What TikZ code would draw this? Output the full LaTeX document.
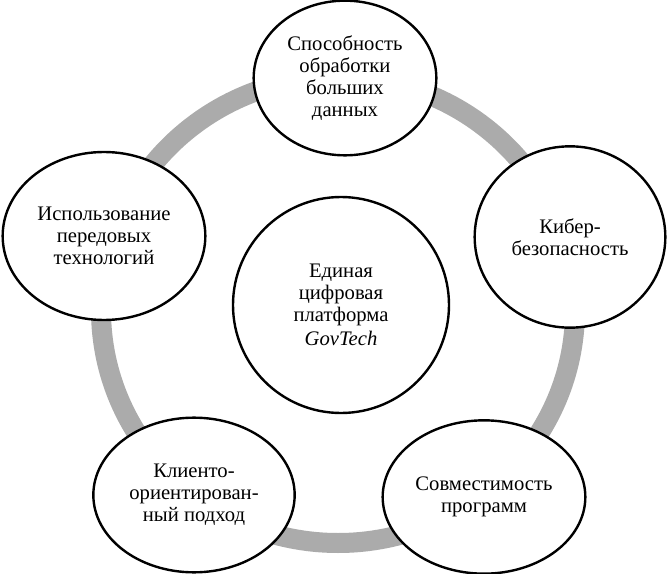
\documentclass[tikz,border=0pt]{standalone}
\usepackage{fontspec}
\setmainfont{Liberation Serif}
\usepackage{xcolor}
\usepackage{tikz}
\usetikzlibrary{shapes.geometric}

\begin{document}
\begin{tikzpicture}[x=0.75pt, y=-0.75pt, every node/.style={align=center},
  ring/.style={line width=15pt, draw=black!33},
  item/.style={draw, ellipse, line width=1.8pt, fill=white, inner sep=0pt, font=\fontsize{15.5}{16.5}\selectfont},
  hub/.style={draw, circle, line width=1.8pt, fill=white, inner sep=0pt, minimum size=162pt, font=\fontsize{15.5}{16.5}\selectfont}]
\useasboundingbox (0,0) rectangle (668,574);
\coordinate (O) at (338,310);
\draw[ring] (O) ellipse [x radius=237, y radius=233];
\node[hub] (platform) at (341,305) {Единая\\цифровая\\платформа\\[2pt]\textit{GovTech}};
\node[item, minimum width=137pt, minimum height=116pt] (data) at (345,78) {Способность\\обработки\\больших\\данных};
\node[item, minimum width=143pt, minimum height=136pt] (cyber) at (570,237) {Кибер-\\безопасность};
\node[item, minimum width=152pt, minimum height=115pt] (compat) at (484,497) {Совместимость\\программ};
\node[item, minimum width=151pt, minimum height=116pt] (client) at (194,495) {Клиенто-\\ориентирован-\\ный подход};
\node[item, minimum width=152pt, minimum height=126pt] (tech) at (104,236) {Использование\\передовых\\технологий};
\end{tikzpicture}
\end{document}
